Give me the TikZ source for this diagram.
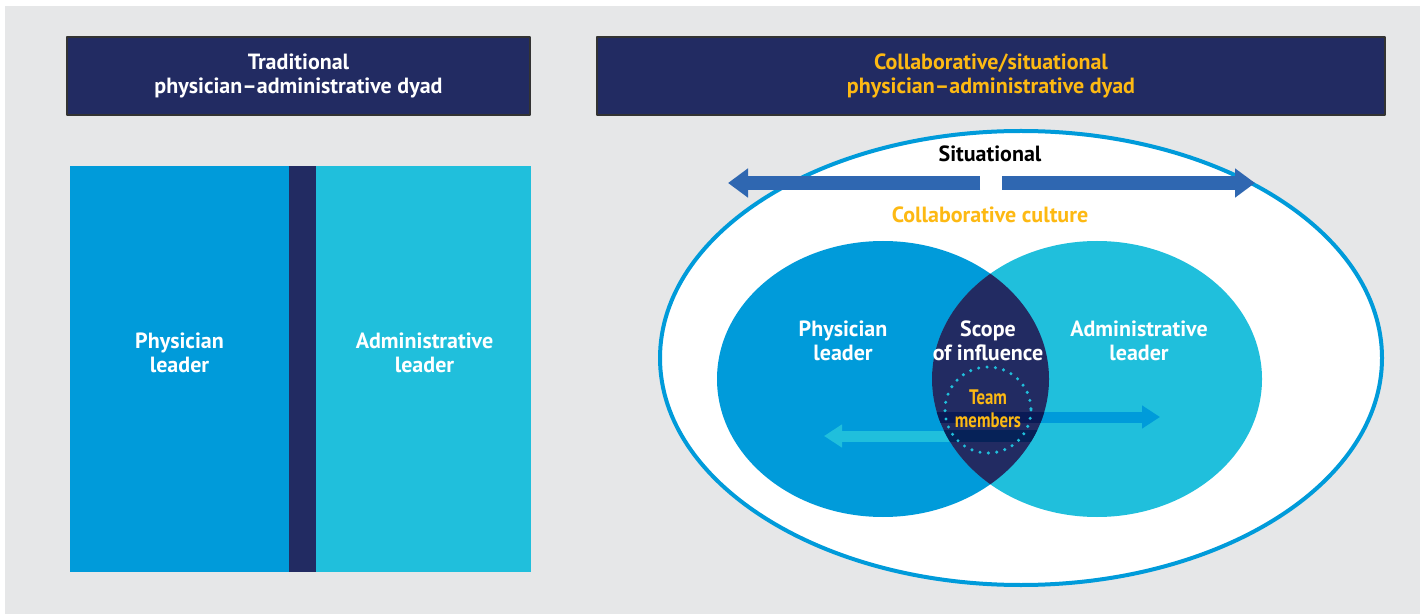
\documentclass[tikz,border=0pt]{standalone}
\usepackage{fontspec}
\setmainfont{PT Sans}
\newfontfamily\narrowsans[FakeStretch=0.8]{PT Sans}
\usetikzlibrary{arrows.meta}

\definecolor{paper}{RGB}{230,231,232}
\definecolor{navy}{RGB}{34,43,98}
\definecolor{physblue}{RGB}{0,155,218}
\definecolor{admincyan}{RGB}{32,191,220}
\definecolor{sitblue}{RGB}{47,103,177}
\definecolor{gold}{RGB}{253,185,19}
\definecolor{bandA}{RGB}{10,26,86}
\definecolor{bandB}{RGB}{6,34,88}

\tikzset{
  label text/.style={font=\bfseries\fontsize{11}{11.7}\selectfont, align=center, inner sep=0pt},
  header/.style={fill=navy, draw=black!80, line width=0.6pt},
  sitarrow/.style={draw=sitblue, line width=7pt, -{Triangle[width=14pt, length=10pt]}},
  flowarrow/.style={line width=5.5pt, -{Triangle[width=11pt, length=9pt]}},
}

\begin{document}
\begin{tikzpicture}[x=0.5pt, y=-0.5pt, line join=round]
  \useasboundingbox (0,0) rectangle (1423,614);
  \fill[paper] (5,6) rectangle (1420,614);

  % titles
  \draw[header] (67,37) rectangle (530,115);
  \draw[header] (597,37) rectangle (1385,115);
  \node[label text, white] (tradtitle) at (298.5,76) {Traditional\\physician--administrative dyad};
  \node[label text, gold] (collabtitle) at (991,76) {Collaborative/situational\\physician--administrative dyad};

  % traditional dyad: two blocks split by a bar
  \fill[physblue] (70,166) rectangle (289,572);
  \fill[navy] (289,166) rectangle (316,572);
  \fill[admincyan] (316,166) rectangle (531,572);
  \node[label text, white] (tradphys) at (179.5,353) {Physician\\leader};
  \node[label text, white] (tradadmin) at (424.5,353) {Administrative\\leader};

  % collaborative dyad
  \coordinate (culture) at (1021,358);
  \coordinate (phys) at (883,379);
  \coordinate (admin) at (1097,379);
  \draw[line width=2pt, draw=physblue, fill=white] (culture) ellipse [x radius=361, y radius=227];

  \coordinate (sitleft) at (980,183);
  \coordinate (sitlefttip) at (728,183);
  \coordinate (sitright) at (1002,183);
  \coordinate (sitrighttip) at (1255,183);
  \draw[sitarrow] (sitleft) -- (sitlefttip);
  \draw[sitarrow] (sitright) -- (sitrighttip);
  \node[label text, black] (situational) at (990,154) {Situational};
  \node[label text, gold] (culturelabel) at (990,215) {Collaborative culture};

  \fill[physblue] (phys) ellipse [x radius=166, y radius=138];
  \fill[admincyan] (admin) ellipse [x radius=165, y radius=138];

  \coordinate (lens) at (988,417);
  \coordinate (lenslow) at (988,436);
  \coordinate (toadmin) at (1160,417);
  \coordinate (tophys) at (824,436);
  \draw[flowarrow, draw=physblue] (lens) -- (toadmin);
  \draw[flowarrow, draw=admincyan] (lenslow) -- (tophys);

  % overlap of the two leaders
  \begin{scope}
    \clip (phys) ellipse [x radius=166, y radius=138];
    \fill[navy] (admin) ellipse [x radius=165, y radius=138];
    \clip (admin) ellipse [x radius=165, y radius=138];
    \fill[bandA] (900,411.5) rectangle (1080,422.5);
    \fill[bandB] (900,430) rectangle (1080,442);
  \end{scope}
  \draw[admincyan, line width=1.7pt, line cap=round, dash pattern=on 0pt off 4.2pt] (988,410) circle [radius=43];

  \node[label text, white] (physlabel) at (843,341) {Physician\\leader};
  \node[label text, white] (scope) at (988,341) {Scope\\of influence};
  \node[label text, white] (adminlabel) at (1139,341) {Administrative\\leader};
  \node[label text, gold, font=\narrowsans\bfseries\fontsize{10.5}{11.5}\selectfont] (team) at (988,409) {Team\\members};
\end{tikzpicture}
\end{document}
